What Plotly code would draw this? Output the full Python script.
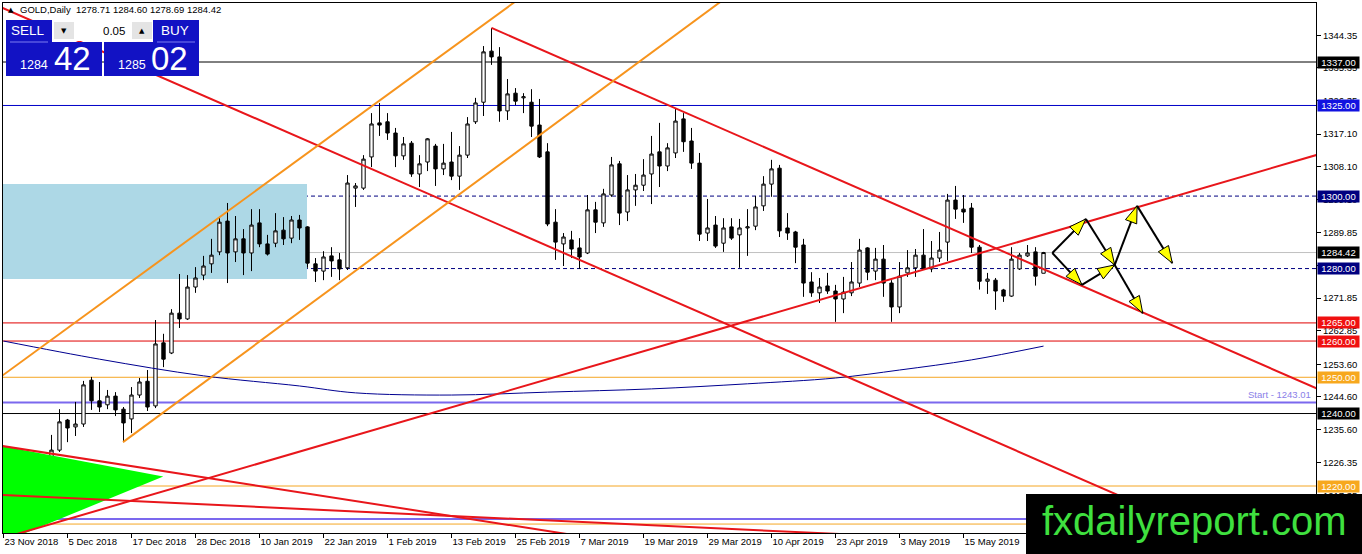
import math
import plotly.graph_objects as go

# daily GOLD bars, bar 0 = 23 Nov 2018 (one bar per trading day)
date_ticks = [0, 8, 16, 24, 32, 40, 48, 56, 64, 72, 80, 88, 96, 104, 112, 120]
date_labels = ["23 Nov 2018", "5 Dec 2018", "17 Dec 2018", "28 Dec 2018", "10 Jan 2019",
               "22 Jan 2019", "1 Feb 2019", "13 Feb 2019", "25 Feb 2019", "7 Mar 2019",
               "19 Mar 2019", "29 Mar 2019", "10 Apr 2019", "23 Apr 2019", "3 May 2019",
               "15 May 2019"]

opens = [1226.9, 1222.5, 1221.4, 1214.2, 1219.7, 1223.6, 1221.4, 1229.9, 1238.2, 1236.3,
         1237.1, 1249.2, 1243.5, 1242.4, 1244.8, 1241.2, 1238.5, 1245.1, 1248.9, 1242.1,
         1259.5, 1256.7, 1267.7, 1266.1, 1274.9, 1278.2, 1281.3, 1284.6, 1293.1, 1284.6,
         1288.2, 1284.3, 1292.6, 1286.8, 1287.0, 1290.6, 1288.4, 1293.4, 1291.5, 1281.3,
         1279.3, 1283.5, 1282.4, 1280.2, 1302.2, 1302.2, 1310.8, 1320.2, 1320.5, 1317.4,
         1311.1, 1314.6, 1306.1, 1309.4, 1313.8, 1307.5, 1309.4, 1305.5, 1311.3, 1320.5,
         1325.9, 1340.0, 1338.4, 1323.5, 1328.4, 1327.1, 1325.9, 1319.6, 1312.2, 1292.8,
         1286.8, 1287.9, 1285.7, 1284.3, 1296.2, 1292.6, 1300.3, 1308.9, 1295.6, 1301.7,
         1303.0, 1306.1, 1312.2, 1308.3, 1311.9, 1321.3, 1315.2, 1309.1, 1289.8, 1292.0,
         1287.0, 1291.5, 1289.3, 1291.2, 1291.7, 1297.3, 1303.3, 1307.7, 1291.2, 1290.1,
         1286.5, 1276.3, 1273.3, 1275.2, 1273.8, 1271.6, 1273.3, 1276.0, 1285.7, 1279.3,
         1282.6, 1276.0, 1269.4, 1278.8, 1280.2, 1283.7, 1279.9, 1282.9, 1287.3, 1298.9,
         1296.4, 1296.7, 1285.9, 1276.5, 1276.8, 1274.1, 1272.4, 1279.9, 1283.5, 1284.6,
         1278.71]
highs = [1229.0, 1227.2, 1224.4, 1225.8, 1228.0, 1224.9, 1234.1, 1241.2, 1238.5, 1243.2,
         1249.0, 1250.1, 1248.7, 1246.5, 1245.9, 1241.8, 1247.3, 1249.8, 1252.0, 1265.8,
         1262.0, 1268.8, 1278.5, 1278.2, 1280.4, 1283.5, 1288.2, 1294.0, 1298.1, 1294.5,
         1290.9, 1296.4, 1296.4, 1289.3, 1295.3, 1294.2, 1294.5, 1294.8, 1291.7, 1282.9,
         1284.8, 1285.9, 1284.3, 1305.8, 1303.6, 1311.3, 1322.9, 1325.7, 1322.9, 1318.8,
         1316.3, 1315.2, 1311.3, 1316.0, 1314.4, 1314.4, 1317.7, 1313.8, 1321.8, 1327.1,
         1341.4, 1346.4, 1341.1, 1332.3, 1329.8, 1328.4, 1329.5, 1326.8, 1314.6, 1296.4,
         1289.8, 1290.4, 1288.4, 1300.3, 1298.4, 1302.0, 1310.8, 1309.7, 1305.8, 1306.1,
         1310.2, 1316.6, 1320.2, 1314.6, 1324.3, 1322.9, 1318.8, 1311.9, 1299.2, 1294.5,
         1293.9, 1293.9, 1293.7, 1296.4, 1300.0, 1305.5, 1310.0, 1308.6, 1295.3, 1290.4,
         1288.2, 1279.0, 1277.4, 1278.8, 1275.5, 1277.7, 1281.8, 1288.2, 1285.9, 1285.7,
         1286.5, 1276.8, 1281.8, 1285.1, 1285.4, 1290.9, 1287.6, 1290.1, 1300.6, 1302.8,
         1300.3, 1298.1, 1286.5, 1278.8, 1277.4, 1274.4, 1285.9, 1284.3, 1286.5, 1285.9,
         1284.60]
lows = [1219.8, 1220.8, 1211.2, 1210.3, 1216.7, 1215.6, 1220.5, 1229.4, 1232.1, 1233.8,
        1236.3, 1241.0, 1240.4, 1241.2, 1239.3, 1232.1, 1234.6, 1244.3, 1240.7, 1241.5,
        1252.8, 1256.4, 1263.6, 1265.8, 1273.3, 1276.8, 1278.8, 1283.7, 1276.0, 1281.8,
        1278.2, 1279.3, 1285.9, 1283.6, 1285.9, 1286.5, 1287.0, 1287.9, 1280.2, 1276.3,
        1276.8, 1277.7, 1276.8, 1279.6, 1297.0, 1301.7, 1308.0, 1316.6, 1315.5, 1308.0,
        1310.0, 1305.3, 1302.5, 1306.9, 1302.8, 1305.8, 1304.4, 1301.7, 1310.5, 1319.9,
        1322.1, 1336.2, 1320.5, 1321.0, 1325.1, 1322.9, 1316.3, 1310.5, 1291.7, 1282.4,
        1280.7, 1282.9, 1279.9, 1284.0, 1289.8, 1291.5, 1299.8, 1292.0, 1293.1, 1297.3,
        1301.4, 1297.8, 1302.5, 1306.9, 1310.5, 1312.2, 1307.5, 1287.6, 1287.6, 1285.7,
        1284.6, 1287.9, 1280.2, 1283.5, 1290.6, 1295.9, 1299.8, 1288.7, 1287.9, 1281.5,
        1272.2, 1272.2, 1270.5, 1273.0, 1265.3, 1267.7, 1272.4, 1274.9, 1276.8, 1276.8,
        1272.2, 1265.3, 1267.7, 1277.7, 1277.7, 1279.6, 1279.0, 1281.8, 1282.1, 1293.7,
        1292.6, 1284.3, 1274.2, 1273.0, 1268.6, 1270.8, 1272.2, 1279.6, 1283.2, 1275.3,
        1278.69]
closes = [1222.2, 1221.1, 1214.2, 1220.3, 1223.6, 1221.1, 1229.9, 1237.7, 1236.0, 1237.1,
          1247.9, 1243.5, 1241.8, 1244.8, 1241.0, 1237.4, 1245.1, 1248.7, 1241.8, 1259.2,
          1255.0, 1267.7, 1266.1, 1274.9, 1277.4, 1280.7, 1283.7, 1292.8, 1284.3, 1288.2,
          1284.3, 1292.0, 1286.8, 1284.0, 1290.4, 1288.2, 1293.4, 1291.2, 1281.5, 1279.3,
          1283.2, 1282.1, 1279.9, 1303.6, 1302.8, 1310.2, 1319.9, 1319.6, 1317.4, 1311.1,
          1314.4, 1306.1, 1308.9, 1315.8, 1307.5, 1309.1, 1305.5, 1311.3, 1319.9, 1325.7,
          1339.8, 1338.4, 1323.5, 1328.2, 1326.2, 1327.4, 1319.3, 1310.8, 1292.3, 1287.3,
          1288.7, 1285.4, 1283.2, 1296.2, 1292.8, 1300.6, 1308.6, 1295.3, 1301.7, 1303.0,
          1305.8, 1311.6, 1308.3, 1313.3, 1320.7, 1315.0, 1309.1, 1289.5, 1291.2, 1286.2,
          1291.2, 1288.4, 1291.2, 1291.5, 1297.0, 1303.3, 1307.5, 1290.4, 1289.8, 1285.9,
          1276.0, 1273.3, 1274.9, 1273.8, 1271.6, 1273.5, 1276.3, 1285.1, 1279.0, 1282.6,
          1276.0, 1269.4, 1277.9, 1280.2, 1283.7, 1279.9, 1282.9, 1285.1, 1298.9, 1296.4,
          1295.6, 1285.9, 1276.5, 1277.1, 1273.8, 1272.4, 1282.6, 1283.7, 1284.3, 1277.9,
          1284.42]
ask_price = 1285.02

# moving average read at a few bars
ma_bars = [0, 12, 25, 37, 44, 56, 68, 81, 93, 104, 112, 121, 130]
ma_vals = [1260.0, 1255.0, 1250.4, 1247.6, 1245.7, 1245.1, 1245.9, 1246.8, 1248.2,
           1249.8, 1252.0, 1254.8, 1258.6]

price_ticks = [1344.35, 1335.35, 1326.35, 1317.10, 1308.10, 1299.10, 1289.85, 1280.85,
               1271.85, 1262.85, 1253.60, 1244.60, 1235.60, 1226.35, 1217.35, 1208.35]

# horizontal levels
levels = [1337.00, 1325.00, 1300.00, 1284.42, 1280.00, 1265.00, 1260.00, 1250.00,
          1243.01, 1240.00, 1220.00, 1210.90, 1209.50]

# trend line anchors (bar, price)
red_down_1 = [(19.94, 1332.6), (139.3, 1217.5)]
red_down_2 = [(61.0, 1346.4), (164.06, 1247.0)]
red_up = [(2.06, 1207.0), (164.06, 1311.3)]
red_low_1 = [(-0.06, 1231.0), (69.7, 1207.0)]
red_low_2 = [(-0.06, 1217.5), (102.1, 1207.0)]
orange_top = [(-0.06, 1250.6), (43.3, 1320.4)]
orange_bottom = [(14.94, 1232.1), (67.06, 1316.9)]

green_tri_bars = [-0.06, 19.97, -0.06]
green_tri_prices = [1231.0, 1222.6, 1204.5]

zone_bars = [-2, 37.94]
zone_prices = [1277.1, 1303.3]

# projected path arrows
path_pts = {"a": (131.1, 1284.3), "b": (135.3, 1293.7), "c": (134.8, 1275.5),
            "d": (138.9, 1281.0), "e": (141.7, 1297.3), "f": (142.4, 1267.7),
            "g": (146.1, 1281.5)}
path_arrows = [("a", "b"), ("a", "c"), ("b", "d"), ("c", "d"), ("d", "e"), ("d", "f"), ("e", "g")]

# ---- layout geometry ----
W, H = 1362, 554
ML, MR, MT, MB = 3, 46, 3, 21
PW, PH = W - ML - MR, H - MT - MB
x_range = [-0.0625, 164.06]
y_range = [1207.03, 1353.28]
sx = PW / (x_range[1] - x_range[0])
sy = PH / (y_range[1] - y_range[0])


def px(x):
    return (x - ML) / PW


def py(y):
    return 1 - (y - MT) / PH


FONT = "Liberation Sans"
RED = "#E8161B"
ORANGE = "#F7941D"

fig = go.Figure()

fig.add_trace(go.Scatter(x=green_tri_bars + [green_tri_bars[0]],
                         y=green_tri_prices + [green_tri_prices[0]],
                         fill="toself", fillcolor="#00FF00", mode="none", hoverinfo="skip"))

fig.add_trace(go.Scatter(x=ma_bars, y=ma_vals, mode="lines", line=dict(color="#000090", width=1, shape="spline"),
                         hoverinfo="skip"))

bars = list(range(len(closes)))
fig.add_trace(go.Candlestick(
    x=bars, open=opens, high=highs, low=lows, close=closes,
    increasing=dict(fillcolor="#FFFFFF", line=dict(color="#000000", width=1)),
    decreasing=dict(fillcolor="#000000", line=dict(color="#000000", width=1)),
    hoverinfo="skip", whiskerwidth=0))


def line_through(anchors, ray=False):
    (x0, y0), (x1, y1) = anchors
    k = (y1 - y0) / (x1 - x0)
    xs = [x0 if ray else -10, 180]
    return xs, [y0 + k * (x - x0) for x in xs]


for anchors, color, ray in [(red_down_1, RED, False), (red_down_2, RED, True), (red_up, RED, False),
                            (red_low_1, RED, False), (red_low_2, RED, False),
                            (orange_top, ORANGE, False), (orange_bottom, ORANGE, True)]:
    xs, ys = line_through(anchors, ray)
    fig.add_trace(go.Scatter(x=xs, y=ys, mode="lines", line=dict(color=color, width=2), hoverinfo="skip"))


def head(start, end, length=17, half=6):
    dx = (end[0] - start[0]) * sx
    dy = (end[1] - start[1]) * sy
    n = math.hypot(dx, dy)
    ux, uy = dx / n, dy / n
    bx, by = -ux * length, -uy * length
    pts = [(0, 0), (bx - uy * half, by + ux * half), (bx + uy * half, by - ux * half), (0, 0)]
    return [end[0] + p[0] / sx for p in pts], [end[1] + p[1] / sy for p in pts]


for s, e in path_arrows:
    p0, p1 = path_pts[s], path_pts[e]
    fig.add_trace(go.Scatter(x=[p0[0], p1[0]], y=[p0[1], p1[1]], mode="lines",
                             line=dict(color="#000000", width=2), hoverinfo="skip"))
    hx, hy = head(p0, p1)
    fig.add_trace(go.Scatter(x=hx, y=hy, mode="lines", fill="toself", fillcolor="#FFFF00",
                             line=dict(color="#000000", width=1), hoverinfo="skip"))

shapes = []
annotations = []

shapes.append(dict(type="rect", xref="x", yref="y", x0=zone_bars[0], x1=zone_bars[1],
                   y0=zone_prices[0], y1=zone_prices[1], fillcolor="#ADD8E6",
                   line=dict(width=0), layer="below"))

# (line colour, width, dash, label background or None)
level_styles = [
    ("#000000", 1, "solid", "#000000"),
    ("#0000C8", 1, "solid", "#1212E0"),
    ("#000080", 1, "4px,3px", "#000080"),
    ("#C0C0C0", 1, "solid", "#000000"),
    ("#000080", 1, "4px,3px", "#000080"),
    ("#E00000", 1, "solid", "#F01010"),
    ("#E00000", 1, "solid", "#F01010"),
    ("#F5A623", 1, "solid", "#F7A81E"),
    ("#7B68EE", 2, "solid", None),
    ("#000000", 1, "solid", "#000000"),
    ("#F5A623", 1, "solid", "#F7A81E"),
    ("#7B68EE", 2, "solid", None),
    ("#F5A623", 1, "solid", None),
]
for lv, (col, wd, dash, bg) in zip(levels, level_styles):
    shapes.append(dict(type="line", xref="paper", yref="y", x0=0, x1=1, y0=lv, y1=lv,
                       line=dict(color=col, width=wd, dash=dash), layer="below"))
    if bg:
        annotations.append(dict(x=1, xref="paper", xanchor="left", xshift=1, y=lv, yref="y",
                                yanchor="middle", text=f"{lv:.2f}", showarrow=False, bgcolor=bg,
                                width=41, height=11, borderpad=0,
                                font=dict(family=FONT, size=9.5, color="#FFFFFF")))

annotations.append(dict(x=px(1313), xref="paper", xanchor="right", y=levels[8], yref="y",
                        yanchor="bottom", yshift=1, text=f"Start - {levels[8]:.2f}", showarrow=False,
                        font=dict(family=FONT, size=9.5, color="#8A80E8")))

# header and one-click trading panel
annotations.append(dict(x=px(6), y=py(10), xref="paper", yref="paper", xanchor="left", yanchor="middle",
                        showarrow=False, text="▲", font=dict(family="DejaVu Sans", size=7, color="#000000")))
annotations.append(dict(x=px(18), y=py(10), xref="paper", yref="paper", xanchor="left", yanchor="middle",
                        showarrow=False,
                        text=f"GOLD,Daily  {opens[-1]:.2f} {highs[-1]:.2f} {lows[-1]:.2f} {closes[-1]:.2f}",
                        font=dict(family=FONT, size=9.5, color="#000000")))

BLUE = "#1212C4"
for x0, y0, x1, y1, col in [(6, 20, 52, 42, BLUE), (153, 20, 199, 42, BLUE),
                            (6, 42, 102, 76, BLUE), (104, 42, 199, 76, BLUE),
                            (52, 20, 153, 41, "#FFFFFF"), (54, 22, 74, 39, "#E4E4E4"),
                            (132, 22, 152, 39, "#E4E4E4")]:
    shapes.append(dict(type="rect", xref="paper", yref="paper", x0=px(x0), x1=px(x1),
                       y0=py(y1), y1=py(y0), fillcolor=col, line=dict(width=0), layer="above"))
for x0, x1 in [(10, 48), (157, 195)]:
    shapes.append(dict(type="line", xref="paper", yref="paper", x0=px(x0), x1=px(x1), y0=py(42), y1=py(42),
                       line=dict(color="#7C7CF0", width=1), layer="above"))

bid_txt = f"{closes[-1]:.2f}"
ask_txt = f"{ask_price:.2f}"
for txt, x, y, size, col, anchor in [
        ("SELL", 28, 31, 13.5, "#FFFFFF", "center"), ("BUY", 175, 31, 13.5, "#FFFFFF", "center"),
        ("0.05", 127, 31, 11.5, "#000000", "right"),
        ("▼", 64, 31, 7, "#000000", "center"), ("▲", 142, 31, 7, "#000000", "center"),
        (bid_txt[:4], 50, 65, 12.5, "#FFFFFF", "right"), (bid_txt[5:], 52, 59, 33, "#FFFFFF", "left"),
        (ask_txt[:4], 148, 65, 12.5, "#FFFFFF", "right"), (ask_txt[5:], 149, 59, 33, "#FFFFFF", "left")]:
    annotations.append(dict(x=px(x), y=py(y), xref="paper", yref="paper", xanchor=anchor, yanchor="middle",
                            showarrow=False, text=txt,
                            font=dict(family=FONT if size > 8 else "DejaVu Sans", size=size, color=col)))

# watermark
shapes.append(dict(type="rect", xref="paper", yref="paper", x0=px(1026), x1=px(1370), y0=py(560), y1=py(494),
                   fillcolor="#000000", line=dict(width=0), layer="above"))
annotations.append(dict(x=px(1194), y=py(521), xref="paper", yref="paper", xanchor="center", yanchor="middle",
                        showarrow=False, text="fxdailyreport.com",
                        font=dict(family=FONT, size=40, color="#3FE03F")))

fig.update_layout(
    template="none", width=W, height=H, showlegend=False, hovermode=False,
    margin=dict(l=ML, r=MR, t=MT, b=MB, pad=0),
    paper_bgcolor="#FFFFFF", plot_bgcolor="#FFFFFF", boxgap=0.4,
    shapes=shapes, annotations=annotations,
    xaxis=dict(range=x_range, tickvals=date_ticks, ticktext=date_labels, ticks="outside", ticklen=4,
               tickcolor="#000000", ticklabelposition="outside right", showgrid=False, zeroline=False,
               showline=True, mirror=True, linecolor="#000000", linewidth=1, automargin=False,
               tickfont=dict(family=FONT, size=9.5, color="#000000"), rangeslider=dict(visible=False)),
    yaxis=dict(range=y_range, side="right", tickvals=price_ticks, ticktext=[f"{v:.2f}" for v in price_ticks],
               ticks="outside", ticklen=4, tickcolor="#000000", showgrid=False, zeroline=False,
               showline=True, mirror=True, linecolor="#000000", linewidth=1, automargin=False,
               tickfont=dict(family=FONT, size=9.5, color="#000000")),
)

fig.write_html("out.html", config={"displayModeBar": False},
               post_script="document.body.style.margin='0px';")
